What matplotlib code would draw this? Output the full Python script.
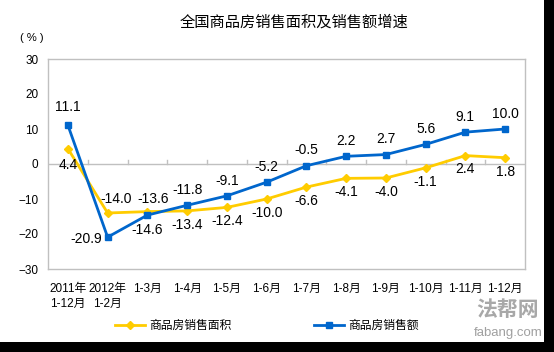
import matplotlib
matplotlib.use("Agg")
import matplotlib.pyplot as plt
from matplotlib.patches import Rectangle
import numpy as np

plt.rcParams["font.family"] = ["Liberation Sans", "Noto Sans CJK SC"]

categories = [
    "2011年\n1-12月", "2012年\n1-2月", "1-3月", "1-4月", "1-5月", "1-6月",
    "1-7月", "1-8月", "1-9月", "1-10月", "1-11月", "1-12月",
]
area_growth = [4.4, -14.0, -13.6, -13.4, -12.4, -10.0, -6.6, -4.1, -4.0, -1.1, 2.4, 1.8]
sales_growth = [11.1, -20.9, -14.6, -11.8, -9.1, -5.2, -0.5, 2.2, 2.7, 5.6, 9.1, 10.0]
area_name = "商品房销售面积"
sales_name = "商品房销售额"
title = "全国商品房销售面积及销售额增速"

yellow = "#FFCC00"
blue = "#0066CC"
frame = "#C0C0C0"

# label offsets (points) per point: (dx, dy, ha)
sales_offsets = [(0, 13, "center"), (-4, -1, "right"), (0, -11, "center")] + [(0, 11, "center")] * 9
area_offsets = [(0, -12, "center"), (6, 10, "center"), (4, 9, "center")] + [(0, -10, "center")] * 9

fig = plt.figure(figsize=(5.54, 3.52), dpi=100)
fig.patch.set_facecolor("white")
ax = fig.add_axes([48 / 554, 1 - 269 / 352, 477 / 554, 210 / 352])

x = np.arange(len(categories))
ax.plot(x, area_growth, color=yellow, lw=2, marker="D", ms=4.5, label=area_name, zorder=3)
ax.plot(x, sales_growth, color=blue, lw=2, marker="s", ms=5, label=sales_name, zorder=4)

for xi, v, (dx, dy, ha) in zip(x, sales_growth, sales_offsets):
    ax.annotate(f"{v:.1f}", (xi, v), xytext=(dx, dy), textcoords="offset points",
                ha=ha, va="center", fontsize=10, color="black")
for xi, v, (dx, dy, ha) in zip(x, area_growth, area_offsets):
    ax.annotate(f"{v:.1f}", (xi, v), xytext=(dx, dy), textcoords="offset points",
                ha=ha, va="center", fontsize=10, color="black")

ax.set_xlim(-0.5, len(categories) - 0.5)
ax.set_ylim(-30, 30)
ax.set_yticks(np.arange(-30, 31, 10))
ax.tick_params(axis="y", length=0, labelsize=8.5, pad=7)
ax.set_xticks(x)
ax.set_xticklabels(categories, fontsize=8.5, linespacing=1.3)
ax.tick_params(axis="x", length=0, pad=10)
for s in ax.spines.values():
    s.set_color(frame)
    s.set_linewidth(1)

# category axis drawn at zero with small ticks between categories
ax.axhline(0, color=frame, lw=1, zorder=1)
for b in np.arange(len(categories) - 1) + 0.5:
    ax.plot([b, b], [0, 1.2], color=frame, lw=1, zorder=1)

fig.text(294 / 554, 1 - 22 / 352, title, ha="center", va="center", fontsize=11)
fig.text(32 / 554, 1 - 38 / 352, "( % )", ha="center", va="center", fontsize=8)

fig.legend(loc="center", bbox_to_anchor=(267 / 554, 1 - 326 / 352), ncol=2,
           frameon=False, fontsize=8.5, handlelength=2.5, handletextpad=0.4,
           columnspacing=7.0, markerscale=0.9)

# watermark
fig.text(508 / 554, 1 - 309 / 352, "法帮网", ha="center", va="center", fontsize=15,
         fontweight="bold", color="#A8A8A8", family=["Noto Sans CJK SC"])
fig.text(508 / 554, 1 - 333 / 352, "fabang.com", ha="center", va="center",
         fontsize=9.5, color="#A0A0A0")

# dark border on right and bottom
fig.patches.append(Rectangle((544 / 554, 0), 10 / 554, 1, transform=fig.transFigure,
                             facecolor="black", edgecolor="none", zorder=10))
fig.patches.append(Rectangle((0, 0), 1, 10 / 352, transform=fig.transFigure,
                             facecolor="black", edgecolor="none", zorder=10))

fig.savefig("out.png", dpi=100)
